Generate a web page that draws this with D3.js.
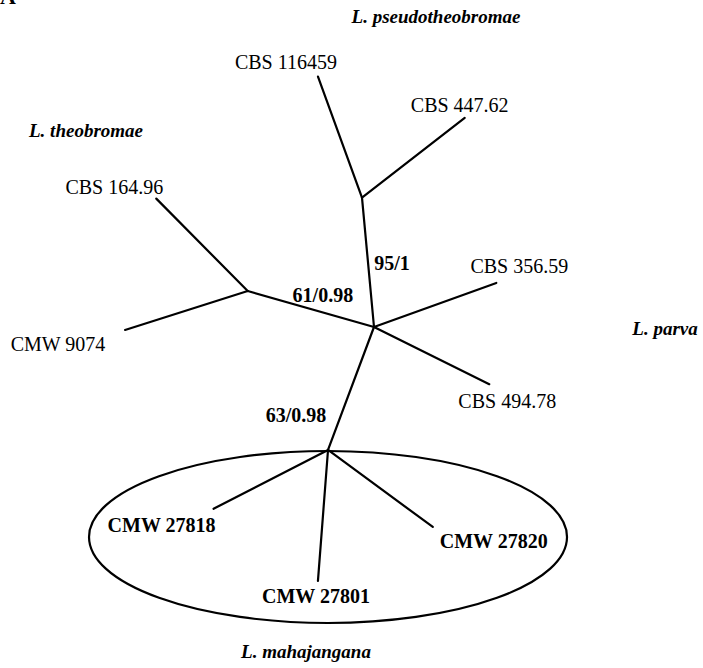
<!DOCTYPE html>
<html>
<head>
<meta charset="utf-8">
<script src="https://cdn.jsdelivr.net/npm/d3@7"></script>
<style>
  body { margin: 0; background: #fff; }
  svg { display: block; }
</style>
</head>
<body>
<div id="container"></div>
<script>
// branches of the unrooted tree (child, parent, length, drawing angle in degrees)
var branchChild  = ['theo', 'CBS 164.96', 'CMW 9074', 'pseudo', 'CBS 116459', 'CBS 447.62',
                    'CBS 356.59', 'CBS 494.78', 'maha', 'CMW 27818', 'CMW 27801', 'CMW 27820'];
var branchParent = ['root', 'theo', 'theo', 'root', 'pseudo', 'pseudo',
                    'root', 'root', 'root', 'maha', 'maha', 'maha'];
var branchLength = [1.01, 1.0, 0.99, 1.0, 0.99, 1.0, 1.0, 0.99, 1.01, 0.99, 1.01, 1.0];
var branchAngle  = [195.9, 225.3, 162.4, 264.7, 250.0, 322.2, 340.2, 26.4, 110.5, 152.8, 94.4, 36.3];

var supportNodes  = ['pseudo', 'theo', 'maha'];
var supportValues = ['95/1', '61/0.98', '63/0.98'];

var boldTips = ['CMW 27818', 'CMW 27801', 'CMW 27820'];

var cladeNames = ['L. pseudotheobromae', 'L. theobromae', 'L. parva', 'L. mahajangana'];

var width = 703,
	height = 668,
	font = 'Liberation Serif, serif';

// layout only
var tipOffset = {
	'CBS 116459': [-32, -8], 'CBS 447.62': [-5, -6], 'CBS 164.96': [-42, -5],
	'CMW 9074': [-67, 21], 'CBS 356.59': [23, -10], 'CBS 494.78': [18, 24],
	'CMW 27818': [-52, 23], 'CMW 27801': [-2, 22], 'CMW 27820': [61, 21]
};
var supportOffset = { 'pseudo': [24, 8], 'theo': [12, -7], 'maha': [-55, 34] };
var cladePos = [[436, 23], [86, 137], [665, 335], [306, 658]];

var rows = [{ id: 'root', parent: '' }];
branchChild.forEach(function(c, i) {
	rows.push({ id: c, parent: branchParent[i], len: branchLength[i], angle: branchAngle[i] });
});

var root = d3.stratify().id(function(d) { return d.id; }).parentId(function(d) { return d.parent || null; })(rows);

root.eachBefore(function(n) {
	if (!n.parent) { n.ux = 0; n.uy = 0; return; }
	var a = n.data.angle * Math.PI / 180;
	n.ux = n.parent.ux + n.data.len * Math.cos(a);
	n.uy = n.parent.uy + n.data.len * Math.sin(a);
});

var xScale = d3.scaleLinear().domain([0, 1]).range([374, 504]),
	yScale = d3.scaleLinear().domain([0, 1]).range([327, 457]);

var canvas = d3.select('#container').append('svg')
	.attr('width', width)
	.attr('height', height);

var nodes = root.descendants();
var byId = {};
nodes.forEach(function(n) { byId[n.id] = n; });

// ellipse around L. mahajangana
var maha = byId['maha'];
canvas.append('ellipse')
	.attr('cx', xScale(maha.ux))
	.attr('cy', yScale(maha.uy) + 87)
	.attr('rx', 239)
	.attr('ry', 86)
	.attr('fill', 'none')
	.attr('stroke', '#000')
	.attr('stroke-width', 2.2);

canvas.selectAll('line.branch')
	.data(root.links())
	.enter()
		.append('line')
		.attr('class', 'branch')
		.attr('x1', function(d) { return xScale(d.source.ux); })
		.attr('y1', function(d) { return yScale(d.source.uy); })
		.attr('x2', function(d) { return xScale(d.target.ux); })
		.attr('y2', function(d) { return yScale(d.target.uy); })
		.attr('stroke', '#000')
		.attr('stroke-width', 2.2)
		.attr('stroke-linecap', 'round');

canvas.selectAll('text.tip')
	.data(root.leaves())
	.enter()
		.append('text')
		.attr('class', 'tip')
		.attr('x', function(d) { return xScale(d.ux) + tipOffset[d.id][0]; })
		.attr('y', function(d) { return yScale(d.uy) + tipOffset[d.id][1]; })
		.attr('text-anchor', 'middle')
		.attr('font-family', font)
		.attr('font-size', 20)
		.attr('font-weight', function(d) { return boldTips.indexOf(d.id) > -1 ? 'bold' : 'normal'; })
		.text(function(d) { return d.id; });

canvas.selectAll('text.support')
	.data(supportNodes)
	.enter()
		.append('text')
		.attr('class', 'support')
		.attr('x', function(id) { var n = byId[id]; return xScale((n.ux + n.parent.ux) / 2) + supportOffset[id][0]; })
		.attr('y', function(id) { var n = byId[id]; return yScale((n.uy + n.parent.uy) / 2) + supportOffset[id][1]; })
		.attr('text-anchor', 'middle')
		.attr('font-family', font)
		.attr('font-size', 20)
		.attr('font-weight', 'bold')
		.text(function(id, i) { return supportValues[i]; });

canvas.selectAll('text.clade')
	.data(cladeNames)
	.enter()
		.append('text')
		.attr('class', 'clade')
		.attr('x', function(d, i) { return cladePos[i][0]; })
		.attr('y', function(d, i) { return cladePos[i][1]; })
		.attr('text-anchor', 'middle')
		.attr('font-family', font)
		.attr('font-size', 19)
		.attr('font-weight', 'bold')
		.attr('font-style', 'italic')
		.text(function(d) { return d; });

canvas.append('text')
	.attr('x', 0)
	.attr('y', 4)
	.attr('font-family', font)
	.attr('font-size', 22)
	.attr('font-weight', 'bold')
	.text('A');
</script>
</body>
</html>
